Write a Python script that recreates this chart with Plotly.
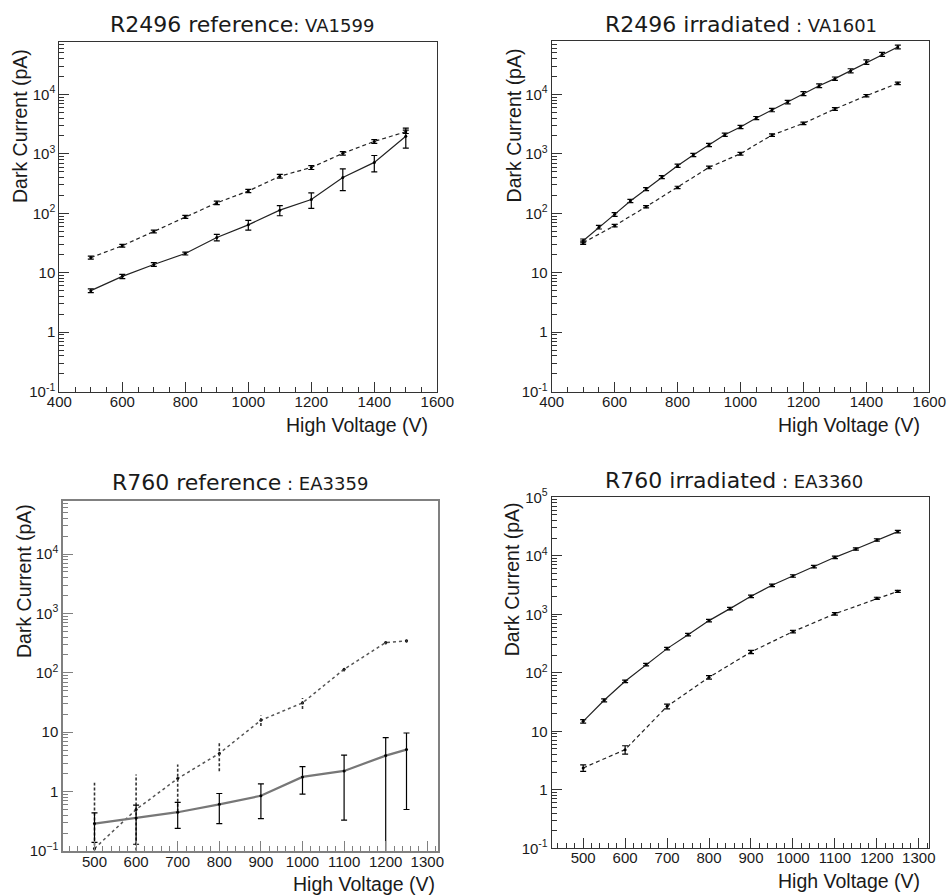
import plotly.graph_objects as go

# ---------------- data: dark current (pA) vs high voltage (V) ----------------
# R2496 reference : VA1599
hv_r2496_ref = [500, 600, 700, 800, 900, 1000, 1100, 1200, 1300, 1400, 1500]
ref_a_dash = [18, 28.5, 49.5, 87.5, 150, 237, 420, 590, 1020, 1620, 2350]
ref_a_dash_err = [1, 1.5, 2.5, 5, 10, 15, 30, 45, 70, 120, 150]
ref_a_solid = [5.0, 8.7, 13.8, 21.1, 39.3, 64, 113, 171, 400, 718, 1980]
ref_a_solid_err = [0.35, 0.7, 1.0, 1.2, 5, 12, 22, 50, 160, 220, 730]

# R2496 irradiated : VA1601
hv_r2496_irr_solid = [500, 550, 600, 650, 700, 750, 800, 850, 900, 950, 1000,
                      1050, 1100, 1150, 1200, 1250, 1300, 1350, 1400, 1450, 1500]
irr_a_solid = [34.5, 58.5, 96, 161, 256, 407, 632, 955, 1410, 2100, 2830,
               4000, 5460, 7440, 10300, 14000, 18400, 25000, 35000, 47200, 62700]
irr_a_solid_err = [2.5, 4, 7, 10, 15, 25, 40, 60, 90, 130, 180,
                   250, 350, 500, 800, 1000, 1200, 2000, 3000, 3500, 4500]
hv_r2496_irr_dash = [500, 600, 700, 800, 900, 1000, 1100, 1200, 1300, 1400, 1500]
irr_a_dash = [32, 62, 129, 273, 592, 1005, 2070, 3260, 5680, 9510, 15350]
irr_a_dash_err = [2, 3, 6, 12, 30, 50, 100, 150, 300, 450, 700]

# R760 reference : EA3359
hv_r760_ref = [500, 600, 700, 800, 900, 1000, 1100, 1200, 1250]
ref_b_solid = [0.29, 0.36, 0.45, 0.61, 0.85, 1.77, 2.23, 4.04, 5.1]
ref_b_solid_err = [0.15, 0.23, 0.21, 0.32, 0.5, 0.86, 1.9, 4.1, 4.6]
ref_b_dash = [0.11, 0.5, 1.66, 4.4, 15.9, 31.2, 115, 324, 346]
ref_b_dash_err = [1.3, 1.45, 1.2, 2.2, 3.2, 6.5, 10, 25, 25]

# R760 irradiated : EA3360
hv_r760_irr_solid = [500, 550, 600, 650, 700, 750, 800, 850, 900, 950,
                     1000, 1050, 1100, 1150, 1200, 1250]
irr_b_solid = [14.8, 33.9, 71.6, 138, 259, 449, 780, 1250, 2030, 3130,
               4520, 6530, 9420, 13100, 18650, 25900]
irr_b_solid_err = [1, 2, 3.5, 7, 13, 22, 40, 60, 100, 150,
                   220, 320, 450, 600, 900, 1200]
hv_r760_irr_dash = [500, 600, 700, 800, 900, 1000, 1100, 1200, 1250]
irr_b_dash = [2.36, 4.86, 26.7, 83.8, 227, 506, 1020, 1875, 2470]
irr_b_dash_err = [0.3, 0.8, 2.5, 6, 15, 25, 50, 80, 100]

titles = [("R2496 reference", ": VA1599"), ("R2496 irradiated", " : VA1601"),
          ("R760 reference", " : EA3359"), ("R760 irradiated", " : EA3360")]

# ---------------- layout helpers ----------------
W, H = 947, 896


def px_x(x):
    return x / W


def px_y(y):
    return 1 - y / H


AX_FONT = "Liberation Sans, Arial, sans-serif"
TITLE_FONT = "DejaVu Sans, sans-serif"
INK = "#1a1a1a"

fig = go.Figure()


def add_series(idx, x, y, err, dash, lw, color, dash_err_as_line=False):
    xa = "x" if idx == 1 else f"x{idx}"
    ya = "y" if idx == 1 else f"y{idx}"
    trace = dict(x=x, y=y, xaxis=xa, yaxis=ya, mode="lines+markers",
                 line=dict(color=color, width=lw, dash=dash),
                 marker=dict(color="black", size=3), showlegend=False)
    if not dash_err_as_line:
        trace["error_y"] = dict(type="data", array=err, visible=True,
                                color="black", thickness=1.2, width=3)
    fig.add_trace(go.Scatter(**trace))
    if dash_err_as_line:
        ex, ey = [], []
        for xi, yi, ei in zip(x, y, err):
            ex += [xi, xi, None]
            ey += [max(yi - ei, 0.01), yi + ei, None]
        fig.add_trace(go.Scatter(x=ex, y=ey, xaxis=xa, yaxis=ya, mode="lines",
                                 line=dict(color="#333", width=1.6, dash="3px,2px"),
                                 showlegend=False, hoverinfo="skip"))


add_series(1, hv_r2496_ref, ref_a_dash, ref_a_dash_err, "4px,3px", 1.2, "#222")
add_series(1, hv_r2496_ref, ref_a_solid, ref_a_solid_err, "solid", 1.2, "#222")
add_series(2, hv_r2496_irr_solid, irr_a_solid, irr_a_solid_err, "solid", 1.2, "#222")
add_series(2, hv_r2496_irr_dash, irr_a_dash, irr_a_dash_err, "4px,3px", 1.2, "#222")
add_series(3, hv_r760_ref, ref_b_dash, ref_b_dash_err, "3px,3px", 1.5, "#555",
           dash_err_as_line=True)
add_series(3, hv_r760_ref, ref_b_solid, ref_b_solid_err, "solid", 2.2, "#777")
add_series(4, hv_r760_irr_solid, irr_b_solid, irr_b_solid_err, "solid", 1.2, "#222")
add_series(4, hv_r760_irr_dash, irr_b_dash, irr_b_dash_err, "4px,3px", 1.2, "#222")

# panel frames in pixels: (left, right, top, bottom)
frames = [(59.3, 437.3, 41.7, 391.7), (551.7, 929.3, 40.7, 391.7),
          (63.3, 437.7, 500.7, 851.0), (551.7, 929.3, 497.3, 848.3)]
yranges = [[-1, 4.886], [-1, 4.903], [-1, 4.899], [-1, 5]]
xranges = [[400, 1600], [400, 1600], [425, 1325], [425, 1325]]
frame_style = [("#333", 1), ("#333", 1), ("#808080", 2), ("#333", 1)]


def dec_text(n, minus="-"):
    if n == 0:
        return "1"
    if n == 1:
        return "10"
    s = str(n).replace("-", minus)
    return f"10<sup>{s}</sup>"


layout = {}
for i in range(4):
    l, r, t, b = frames[i]
    k = "" if i == 0 else str(i + 1)
    lc, lw = frame_style[i]
    top_dec = 5 if i == 3 else 4
    decs = list(range(-1, top_dec + 1))
    minus = "\u2212" if i == 2 else "-"
    y_minor = [m * 10 ** n for n in range(-1, 5) for m in range(2, 10)]
    if i < 2:
        x_major = list(range(400, 1601, 200))
        x_minor = list(range(400, 1601, 50))
    else:
        x_major = list(range(500, 1301, 100))
        x_minor = list(range(440, 1321, 20))
    layout["xaxis" + k] = dict(
        domain=[px_x(l), px_x(r)], range=xranges[i], anchor="y" + k,
        automargin=False, ticklabelstandoff=-4,
        showgrid=False, zeroline=False, showline=True, mirror=True,
        linecolor=lc, linewidth=lw, ticks="inside", ticklen=10, tickwidth=1,
        tickcolor=lc, tickvals=x_major, ticktext=[str(v) for v in x_major],
        tickfont=dict(family=AX_FONT, size=15, color=INK),
        minor=dict(tickvals=x_minor, ticks="inside", ticklen=5, tickwidth=1,
                   tickcolor=lc, showgrid=False),
    )
    layout["yaxis" + k] = dict(
        domain=[px_y(b), px_y(t)], type="log", range=yranges[i], anchor="x" + k,
        automargin=False,
        showgrid=False, zeroline=False, showline=True, mirror=True,
        linecolor=lc, linewidth=lw, ticks="inside", ticklen=10, tickwidth=1,
        tickcolor=lc, tickvals=[10 ** n for n in decs],
        ticktext=[dec_text(n, minus) for n in decs],
        tickfont=dict(family=AX_FONT, size=15, color=INK),
        minor=dict(tickvals=y_minor, ticks="inside", ticklen=5, tickwidth=1,
                   tickcolor=lc, showgrid=False),
    )

annotations = []
# panel titles
title_pos = [(242, 25), (741, 25), (240, 482), (734, 481)]
for (main, sub), (cx, cy) in zip(titles, title_pos):
    annotations.append(dict(
        text=f"{main}<span style='font-size:18px'>{sub}</span>",
        x=px_x(cx), y=px_y(cy), xref="paper", yref="paper",
        xanchor="center", yanchor="middle", showarrow=False,
        font=dict(family=TITLE_FONT, size=22, color=INK)))

# axis titles
xt_pos = [(430, 425), (921.7, 425), (436.7, 884), (921.7, 881)]
for (xr, yc) in xt_pos:
    annotations.append(dict(
        text="High Voltage (V)", x=px_x(xr), y=px_y(yc), xref="paper",
        yref="paper", xanchor="right", yanchor="middle", showarrow=False,
        font=dict(family=AX_FONT, size=19.5, color=INK)))
yt_pos = [(20, 47), (513.7, 46.7), (23.3, 501.7), (512.3, 500)]
for (xc, yt) in yt_pos:
    annotations.append(dict(
        text="Dark Current (pA)", x=px_x(xc), y=px_y(yt), xref="paper",
        yref="paper", xanchor="center", yanchor="top", textangle=-90,
        showarrow=False, font=dict(family=AX_FONT, size=19.5, color=INK)))

fig.update_layout(
    width=W, height=H, margin=dict(l=0, r=0, t=0, b=0),
    paper_bgcolor="white", plot_bgcolor="white",
    annotations=annotations, **layout)

fig.write_html("out.html")
